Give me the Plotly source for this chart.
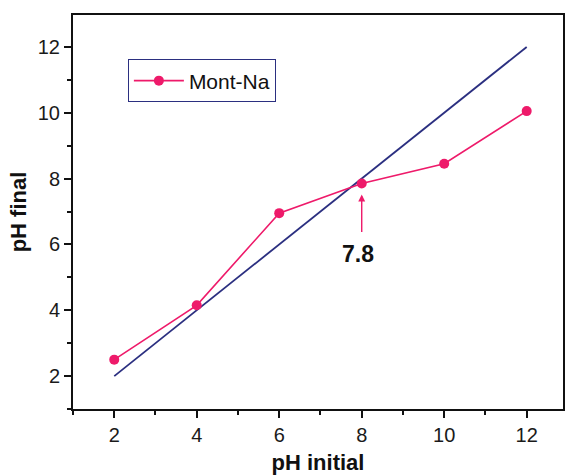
import plotly.graph_objects as go

# Mont-Na: final pH after equilibration versus initial pH
ph_initial = [2, 4, 6, 8, 10, 12]
ph_final = [2.5, 4.15, 6.95, 7.85, 8.45, 10.05]

# y = x reference line (pH final equal to pH initial)
ref_x = [2, 12]
ref_y = [2, 12]

# point of zero charge
pzc_x = 8
pzc_y = 7.85
pzc_label = "7.8"

PINK = "#EE1A6A"
NAVY = "#2B2F80"
FONT = "Liberation Sans, Arial, sans-serif"

fig = go.Figure()
fig.add_trace(go.Scatter(
    x=ref_x, y=ref_y, mode="lines",
    line=dict(color=NAVY, width=1.8),
    showlegend=False, hoverinfo="skip",
))
fig.add_trace(go.Scatter(
    x=ph_initial, y=ph_final, mode="lines+markers", name="Mont-Na",
    line=dict(color=PINK, width=1.6),
    marker=dict(color=PINK, size=10),
))

# arrow pointing at the crossing point
fig.add_annotation(
    x=pzc_x, y=pzc_y, text="", showarrow=True,
    ax=0, ay=50, arrowhead=2, arrowsize=1, arrowwidth=1.4,
    arrowcolor=PINK, standoff=11,
)
fig.add_annotation(
    x=pzc_x, y=pzc_y, text=f"<b>{pzc_label}</b>", showarrow=False,
    xshift=-4, yshift=-70,
    font=dict(family=FONT, size=23, color="#111111"),
)

axis_common = dict(
    showgrid=False, zeroline=False, automargin=False,
    showline=True, linecolor="#111111", linewidth=2, mirror=True,
    ticks="outside", ticklen=7, tickwidth=2, tickcolor="#111111",
    tickfont=dict(family=FONT, size=20, color="#1a1a1a"),
    dtick=2, tick0=0,
    minor=dict(ticks="outside", ticklen=4, tickwidth=1.5, tickcolor="#111111", dtick=1, tick0=0),
)

fig.update_xaxes(
    range=[1, 12.88],
    title=dict(text="<b>pH initial</b>", font=dict(family=FONT, size=22, color="#111111"), standoff=20),
    **axis_common,
)
fig.update_yaxes(
    range=[1, 12.97],
    title=dict(text="<b>pH final</b>", font=dict(family=FONT, size=22, color="#111111"), standoff=5),
    **axis_common,
)

fig.update_layout(
    width=568, height=475,
    margin=dict(l=73, r=5, t=15, b=66),
    paper_bgcolor="white", plot_bgcolor="white",
    font=dict(family=FONT),
    legend=dict(
        x=0.112, y=0.8325, xanchor="left", yanchor="middle",
        bordercolor=NAVY, borderwidth=1, bgcolor="white",
        font=dict(family=FONT, size=21, color="#111111"),
        itemwidth=50, tracegroupgap=0,
    ),
)

fig.write_html("out.html")
